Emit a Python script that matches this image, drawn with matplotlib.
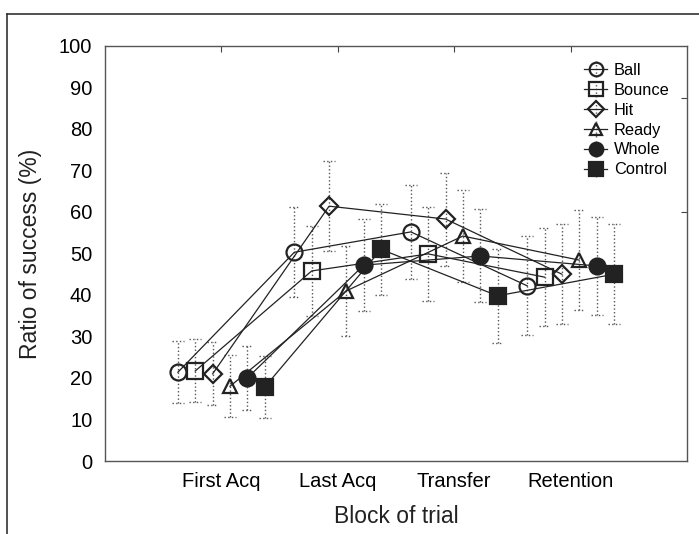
import matplotlib
matplotlib.use('Agg')
import matplotlib.pyplot as plt
from matplotlib.lines import Line2D
import numpy as np

plt.rcParams['font.family'] = ['Liberation Sans', 'DejaVu Sans']

# ----------- Data -----------
blocks = ['First Acq', 'Last Acq', 'Transfer', 'Retention']
series = ['Ball', 'Bounce', 'Hit', 'Ready', 'Whole', 'Control']

ball = [21.4, 50.3, 55.2, 42.2]
bounce = [21.7, 45.8, 49.9, 44.3]
hit = [21.0, 61.4, 58.3, 45.0]
ready = [18.0, 41.0, 54.2, 48.4]
whole = [20.0, 47.2, 49.4, 47.0]
control = [17.8, 51.0, 39.8, 45.0]

ball_err = [7.5, 10.9, 11.3, 11.9]
bounce_err = [7.6, 10.9, 11.3, 11.8]
hit_err = [7.6, 10.9, 11.2, 12.0]
ready_err = [7.5, 10.9, 11.1, 12.0]
whole_err = [7.7, 11.0, 11.2, 11.9]
control_err = [7.4, 10.9, 11.3, 12.0]

values = [ball, bounce, hit, ready, whole, control]
errors = [ball_err, bounce_err, hit_err, ready_err, whole_err, control_err]

# ----------- Styles -----------
ink = '#222222'
bar_col = '#555555'
markers = ['o', 's', 'D', '^', 'o', 's']
faces = ['none', 'none', 'none', 'none', ink, ink]
sizes = [11.5, 11.5, 9.5, 10.5, 11.5, 12]

fig = plt.figure(figsize=(6.99, 5.34), dpi=100)
ax = fig.add_axes([0.150, 0.1367, 0.833, 0.7772])

x = np.arange(1, len(blocks) + 1)
step = 0.149

handles = []
for i, name in enumerate(series):
    xs = x + (i - 2.5) * step
    eb = ax.errorbar(xs, values[i], yerr=errors[i], color=ink, linewidth=0.9,
                     marker=markers[i], markersize=sizes[i], markerfacecolor=faces[i],
                     markeredgecolor=ink, markeredgewidth=1.6,
                     ecolor=bar_col, elinewidth=1.0, capsize=0, zorder=2)
    eb[2][0].set_linestyle(':')
    # dotted caps
    for side in (-1, 1):
        ys = np.array(values[i]) + side * np.array(errors[i])
        ax.hlines(ys, xs - 0.05, xs + 0.05, colors=bar_col, linestyles=':',
                  linewidth=1.0, zorder=1)
    handles.append(eb)

ax.set_xlim(0, 5)
ax.set_ylim(0, 100)
ax.set_xticks(x)
ax.set_xticklabels(blocks)
ax.set_yticks(np.arange(0, 101, 10))
ax.tick_params(axis='x', top=True, bottom=False, labelbottom=True, direction='in',
               length=4, width=0.8, color='#444444', labelsize=14.5, pad=8)
ax.tick_params(axis='y', length=0, labelsize=14.5, pad=9)
for sp in ax.spines.values():
    sp.set_color('#555555')
    sp.set_linewidth(1.0)

sec = ax.secondary_yaxis('right')
sec.set_yticks([60, 87.5])
sec.set_yticklabels(['', ''])
sec.tick_params(direction='in', length=4, width=0.8, color='#444444')
sec.spines['right'].set_visible(False)

ax.set_xlabel('Block of trial', fontsize=16.5, labelpad=10, color=ink)
ax.set_ylabel('Ratio of success (%)', fontsize=16.5, labelpad=12, color=ink)

ax.legend(handles, series, loc='upper right', bbox_to_anchor=(0.995, 0.995), frameon=False,
          fontsize=11.8, handlelength=1.4, handletextpad=0.4, labelspacing=0.3,
          markerscale=0.85)

# outer frame of the figure panel
fig.add_artist(Line2D([0.010, 0.010], [0.0, 0.974], color='#333333', linewidth=1.2))
fig.add_artist(Line2D([0.010, 1.0], [0.974, 0.974], color='#333333', linewidth=1.2))

fig.savefig('out.png', dpi=100)
